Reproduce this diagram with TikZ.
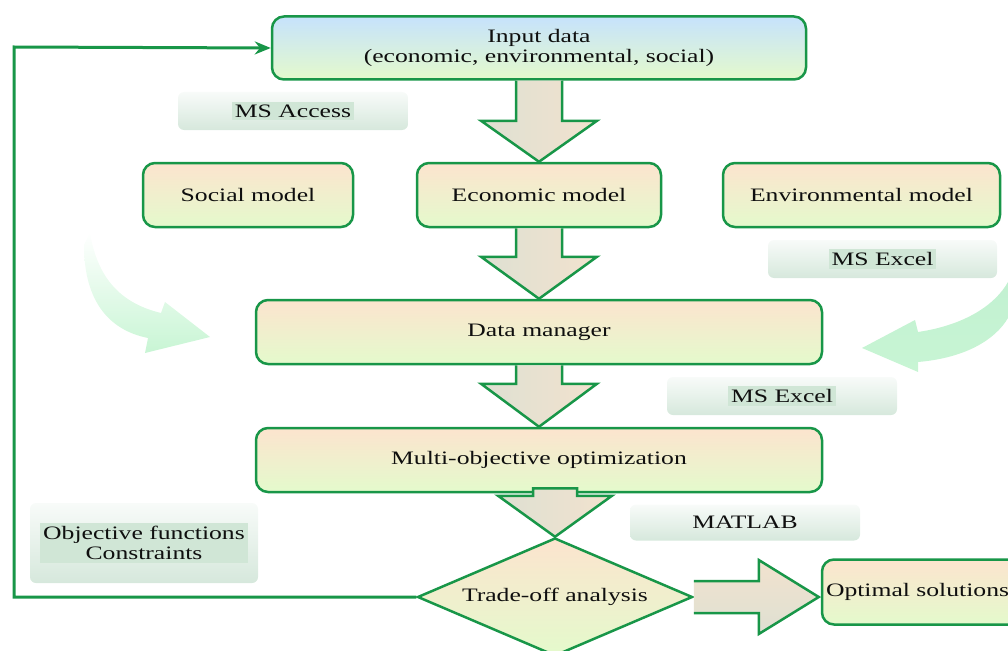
\documentclass[tikz,border=0pt]{standalone}
\usepackage{fontspec}
\setmainfont{Liberation Serif}[FakeStretch=1.35]
\usetikzlibrary{shapes.geometric,calc,arrows.meta}
\definecolor{grn}{RGB}{24,150,72}
\definecolor{peach}{RGB}{252,228,206}
\definecolor{lgreen}{RGB}{228,250,204}
\definecolor{lblue}{RGB}{198,226,252}
\definecolor{arrl}{RGB}{222,224,210}
\definecolor{arrr}{RGB}{242,226,206}
\definecolor{labtop}{RGB}{248,251,249}
\definecolor{labbot}{RGB}{214,232,220}
\definecolor{labhi}{RGB}{208,230,214}
\definecolor{cvA}{RGB}{170,224,198}
\definecolor{cvB}{RGB}{200,245,212}
\definecolor{txt}{RGB}{15,15,15}
\begin{document}
\begin{tikzpicture}[x=1pt,y=-1pt,
  box/.style={draw=grn, line width=2.5pt, rounded corners=12pt, top color=peach, bottom color=lgreen, font=\fontsize{19}{21}\selectfont, text=txt, inner sep=0pt},
  dia/.style={diamond, shape aspect=2.33, draw=grn, line width=2.5pt, top color=peach, bottom color=lgreen, font=\fontsize{19}{21}\selectfont, text=txt, inner sep=0pt, minimum width=275pt, minimum height=118pt},
  labbox/.style={rounded corners=6pt, top color=labtop, bottom color=labbot, inner sep=0pt},
  labtext/.style={fill=labhi, inner xsep=3pt, inner ysep=3pt, font=\fontsize{19}{21}\selectfont, text=txt, align=center},
  blockarr/.style={draw=grn, line width=2.5pt, left color=arrl, right color=arrr, line join=miter},
  curvarr/.style={top color=cvA, bottom color=cvB},
  fb/.style={draw=grn, line width=3pt, -{Stealth[length=16pt,width=13pt]}}
]
\useasboundingbox (0,0) rectangle (1008,650);

% curved decorative arrows
\path[curvarr, top color=white, middle color=cvA, bottom color=cvB] (84,245) .. controls (84,300) and (108,330) .. (148,338)
  -- (145,353) -- (210,337) -- (165,302) -- (161,313)
  .. controls (128,305) and (98,285) .. (90,232) -- cycle;
\path[curvarr, top color=cvB!80!cvA, bottom color=cvB] (1008,282) .. controls (995,305) and (965,325) .. (918,332)
  -- (915,320) -- (862,348) -- (918,372) -- (918,362)
  .. controls (965,358) and (995,340) .. (1008,318) -- cycle;

% main boxes
\node[box, top color=lblue, minimum width=534pt, minimum height=63pt, align=center] (in) at (539,48) {Input data\\[-1pt](economic, environmental, social)};
\node[box, minimum width=210pt, minimum height=64pt] (soc) at (248,195) {Social model};
\node[box, minimum width=244pt, minimum height=64pt] (eco) at (539,195) {Economic model};
\node[box, minimum width=277pt, minimum height=64pt] (env) at (861.5,195) {Environmental model};
\node[box, minimum width=566pt, minimum height=64pt] (dm) at (539,332) {Data manager};
\node[box, minimum width=566pt, minimum height=64pt] (mo) at (539,460) {Multi-objective optimization};
\node[dia] (dia) at (555,597) {Trade-off analysis};
\node[box, minimum width=220pt, minimum height=65pt, text width=212pt, align=left, inner xsep=4pt] (opt) at (932,592) {Optimal solutions};

% labels
\node[labbox, minimum width=230pt, minimum height=38pt] (acc) at (293,111) {};
\node[labtext] (acct) at (acc) {MS Access};
\node[labbox, minimum width=229pt, minimum height=38pt] (xl1) at (882.5,259) {};
\node[labtext] (xl1t) at (xl1) {MS Excel};
\node[labbox, minimum width=230pt, minimum height=38pt] (xl2) at (782,396) {};
\node[labtext] (xl2t) at (xl2) {MS Excel};
\node[labbox, minimum width=230pt, minimum height=36pt] (mat) at (745,522.5) {};
\node[labtext, fill=none] (matt) at (mat) {MATLAB};
\node[labbox, minimum width=228pt, minimum height=80pt] (obj) at (144,543) {};
\node[labtext, font=\fontsize{19}{20}\selectfont] (objt) at (obj) {Objective functions\\Constraints};

% block arrows (vertical)
\path[blockarr] let \p1=(in.south), \p2=(eco.north) in
  (\x1-23pt,\y1) -- (\x1-23pt,\y2+41pt) -- (\x1-58pt,\y2+41pt) -- (\x1,\y2) -- (\x1+58pt,\y2+41pt) -- (\x1+23pt,\y2+41pt) -- (\x1+23pt,\y1);
\path[blockarr] let \p1=(eco.south), \p2=(dm.north) in
  (\x1-23pt,\y1) -- (\x1-23pt,\y2+42pt) -- (\x1-58pt,\y2+42pt) -- (\x1,\y2) -- (\x1+58pt,\y2+42pt) -- (\x1+23pt,\y2+42pt) -- (\x1+23pt,\y1);
\path[blockarr] let \p1=(dm.south), \p2=(mo.north) in
  (\x1-23pt,\y1) -- (\x1-23pt,\y2+43pt) -- (\x1-58pt,\y2+43pt) -- (\x1,\y2) -- (\x1+58pt,\y2+43pt) -- (\x1+23pt,\y2+43pt) -- (\x1+23pt,\y1);
\path[blockarr] let \p1=(dia.north), \p2=(mo.south) in
  (\x1-22pt,\y2+5pt) -- (\x1-22pt,\y1+41pt) -- (\x1-57pt,\y1+41pt) -- (\x1,\y1) -- (\x1+57pt,\y1+41pt) -- (\x1+22pt,\y1+41pt) -- (\x1+22pt,\y2+5pt) -- cycle;
% block arrow (horizontal)
\path[blockarr, top color=arrr, bottom color=arrl] let \p1=(dia.east), \p2=(opt.west) in
  (\x1,\y1+16pt) -- (\x1+65pt,\y1+16pt) -- (\x1+65pt,\y1+37pt) -- (\x2-2pt,\y1) -- (\x1+65pt,\y1-37pt) -- (\x1+65pt,\y1-16pt) -- (\x1,\y1-16pt);

% feedback loop
\coordinate (fbc) at (14,47);
\draw[fb] (dia.west) -| (fbc) -- (in.west);
\end{tikzpicture}
\end{document}
